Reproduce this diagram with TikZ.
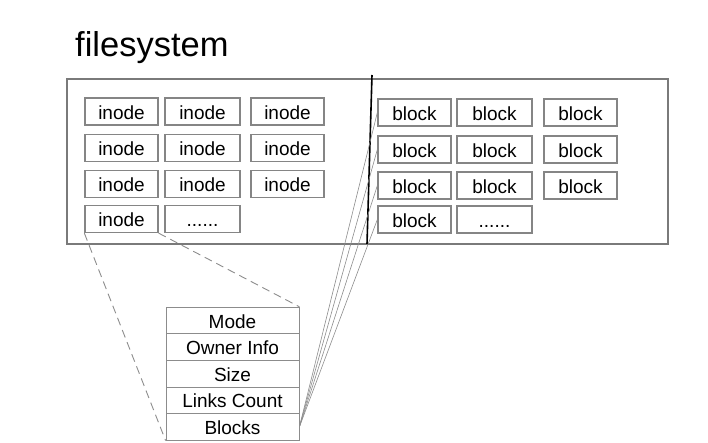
\documentclass[tikz,border=0pt]{standalone}
\usepackage{fontspec}
\setmainfont{Liberation Sans}
\usepackage{xcolor}
\usepackage{tikz}
\definecolor{boxgray}{HTML}{858585}
\definecolor{framegray}{HTML}{7A7A7A}
\definecolor{linkgray}{HTML}{8C8C8C}
\tikzset{
  cell/.style={draw=boxgray,line width=1.3pt,inner sep=0pt,minimum width=73pt,minimum height=27pt,text height=16pt,text depth=0pt,font=\fontsize{19}{21}\selectfont},
  field/.style={draw=linkgray,line width=0.8pt,inner sep=0pt,minimum width=133pt,minimum height=26.6pt,text height=15pt,text depth=0pt,font=\fontsize{19}{21}\selectfont},
  link/.style={draw=linkgray,line width=0.6pt},
  zoomline/.style={draw=linkgray,line width=0.9pt,dash pattern=on 8pt off 5pt}
}
\begin{document}
\begin{tikzpicture}[x=1pt,y=-1pt]
\useasboundingbox (0,0) rectangle (708,443);
% title
\node [anchor=base west,inner sep=0pt,font=\fontsize{34.5}{38}\selectfont] (title) at (75,57) {filesystem};
% filesystem frame
\draw [framegray,line width=1.3pt] (67,79) rectangle (668,244);
\draw [black,line width=1.6pt] (372,75) -- (367,244);
% inodes
\node [cell] (i11) at (121.5,111.5) {inode};
\node [cell,minimum width=75pt] (i12) at (202.5,111.5) {inode};
\node [cell] (i13) at (287.5,111.5) {inode};
\node [cell] (i21) at (121.5,148) {inode};
\node [cell,minimum width=75pt] (i22) at (202.5,148) {inode};
\node [cell] (i23) at (287.5,148) {inode};
\node [cell] (i31) at (121.5,184) {inode};
\node [cell,minimum width=75pt] (i32) at (202.5,184) {inode};
\node [cell] (i33) at (287.5,184) {inode};
\node [cell] (i41) at (121.5,219) {inode};
\node [cell,minimum width=75pt] (i42) at (202.5,219) {......};
% blocks
\node [cell] (b11) at (414.5,112.5) {block};
\node [cell,minimum width=75pt] (b12) at (494.5,112.5) {block};
\node [cell] (b13) at (580.5,112.5) {block};
\node [cell] (b21) at (414.5,149.5) {block};
\node [cell,minimum width=75pt] (b22) at (494.5,149.5) {block};
\node [cell] (b23) at (580.5,149.5) {block};
\node [cell] (b31) at (414.5,185.5) {block};
\node [cell,minimum width=75pt] (b32) at (494.5,185.5) {block};
\node [cell] (b33) at (580.5,185.5) {block};
\node [cell] (b41) at (414.5,219.5) {block};
\node [cell,minimum width=75pt] (b42) at (494.5,219.5) {......};
% inode fields
\node [field] (mode) at (232.5,320.5) {Mode};
\node [field] (owner) at (232.5,347.1) {Owner Info};
\node [field] (size) at (232.5,373.7) {Size};
\node [field] (links) at (232.5,400.3) {Links Count};
\node [field] (blocks) at (232.5,426.9) {Blocks};
% zoom of the last inode
\draw [zoomline] (i41.south west) -- (blocks.south west);
\draw [zoomline] (i41.south east) -- (mode.north east);
% block pointers
\draw [link] (blocks.east) -- (b11.west);
\draw [link] (blocks.east) -- (b21.west);
\draw [link] (blocks.east) -- (b31.west);
\draw [link] (blocks.east) -- (b41.west);
\end{tikzpicture}
\end{document}
